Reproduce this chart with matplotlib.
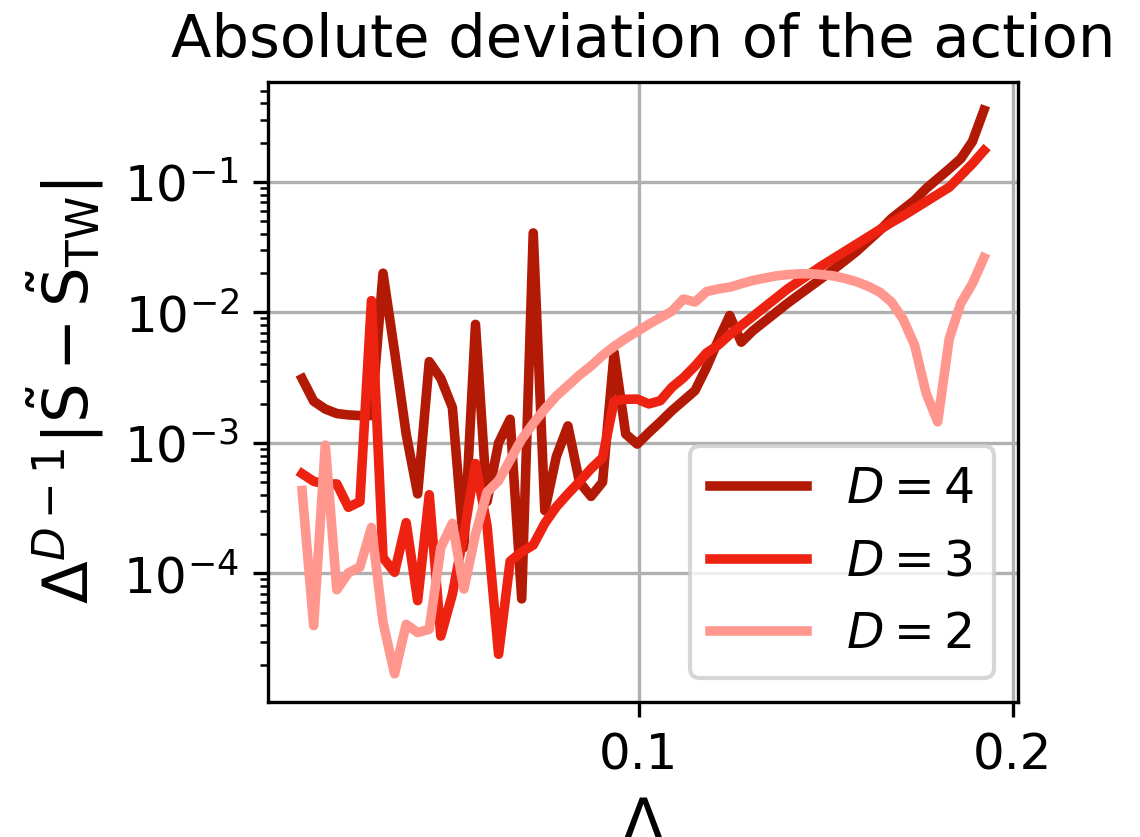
import matplotlib
matplotlib.use("Agg")
import matplotlib.pyplot as plt
from matplotlib.ticker import FormatStrFormatter, NullLocator
import numpy as np

# ---- data ------------------------------------------------------------------
delta = np.array([
    0.05356, 0.05472, 0.05591, 0.05712, 0.05836, 0.05962, 0.06091, 0.06223,
    0.06358, 0.06496, 0.06636, 0.06780, 0.06927, 0.07077, 0.07230, 0.07387,
    0.07547, 0.07710, 0.07877, 0.08048, 0.08222, 0.08400, 0.08582, 0.08768,
    0.08958, 0.09152, 0.09350, 0.09553, 0.09760, 0.09971, 0.10187, 0.10408,
    0.10633, 0.10863, 0.11099, 0.11339, 0.11585, 0.11836, 0.12092, 0.12354,
    0.12621, 0.12895, 0.13174, 0.13459, 0.13751, 0.14049, 0.14353, 0.14664,
    0.14982, 0.15306, 0.15638, 0.15976, 0.16322, 0.16676, 0.17037, 0.17406,
    0.17783, 0.18168, 0.18562, 0.18964,
])

dev_d4 = np.array([
    3.11e-3, 2.09e-3, 1.82e-3, 1.68e-3, 1.64e-3, 1.62e-3, 1.62e-3, 2.00e-2,
    5.01e-3, 1.17e-3, 4.07e-4, 4.20e-3, 3.12e-3, 1.87e-3, 1.58e-4, 8.11e-3,
    3.55e-4, 1.00e-3, 1.52e-3, 6.38e-5, 4.07e-2, 3.03e-4, 7.87e-4, 1.35e-3,
    5.01e-4, 3.89e-4, 5.01e-4, 4.93e-3, 1.17e-3, 9.80e-4, 1.20e-3, 1.45e-3,
    1.77e-3, 2.11e-3, 2.52e-3, 3.80e-3, 6.10e-3, 9.48e-3, 5.92e-3, 7.24e-3,
    8.51e-3, 1.000e-2, 1.175e-2, 1.365e-2, 1.585e-2, 1.84e-2, 2.14e-2, 2.51e-2,
    2.95e-2, 3.55e-2, 4.27e-2, 5.25e-2, 6.17e-2, 7.24e-2, 8.91e-2, 1.06e-1,
    1.26e-1, 1.51e-1, 2.04e-1, 3.55e-1,
])

dev_d3 = np.array([
    5.81e-4, 5.08e-4, 4.84e-4, 4.85e-4, 3.21e-4, 3.55e-4, 1.233e-2, 1.32e-4,
    1.02e-4, 2.45e-4, 6.18e-5, 4.01e-4, 3.31e-5, 6.92e-5, 2.00e-4, 6.95e-4,
    2.32e-4, 2.40e-5, 1.24e-4, 1.46e-4, 1.65e-4, 2.42e-4, 3.24e-4, 4.07e-4,
    5.05e-4, 6.35e-4, 7.71e-4, 2.10e-3, 2.16e-3, 2.17e-3, 1.99e-3, 2.11e-3,
    2.67e-3, 3.16e-3, 3.89e-3, 4.90e-3, 5.62e-3, 6.76e-3, 7.94e-3, 9.33e-3,
    1.096e-2, 1.288e-2, 1.514e-2, 1.738e-2, 1.995e-2, 2.29e-2, 2.60e-2, 2.95e-2,
    3.35e-2, 3.80e-2, 4.32e-2, 4.90e-2, 5.50e-2, 6.24e-2, 7.08e-2, 8.04e-2,
    9.12e-2, 1.12e-1, 1.38e-1, 1.74e-1,
])

dev_d2 = np.array([
    4.32e-4, 3.98e-5, 9.62e-4, 7.50e-5, 1.01e-4, 1.12e-4, 2.25e-4, 4.21e-5,
    1.70e-5, 4.07e-5, 3.52e-5, 3.73e-5, 1.58e-4, 2.42e-4, 7.59e-5, 2.00e-4,
    4.19e-4, 5.13e-4, 7.41e-4, 1.07e-3, 1.41e-3, 1.82e-3, 2.29e-3, 2.75e-3,
    3.31e-3, 3.89e-3, 4.68e-3, 5.50e-3, 6.31e-3, 7.16e-3, 8.13e-3, 9.12e-3,
    1.023e-2, 1.268e-2, 1.202e-2, 1.445e-2, 1.514e-2, 1.563e-2, 1.660e-2, 1.758e-2,
    1.832e-2, 1.905e-2, 1.950e-2, 1.977e-2, 1.982e-2, 1.950e-2, 1.905e-2, 1.820e-2,
    1.718e-2, 1.585e-2, 1.429e-2, 1.202e-2, 8.91e-3, 5.62e-3, 2.40e-3, 1.45e-3,
    6.31e-3, 1.175e-2, 1.660e-2, 2.63e-2,
])

series = [dev_d4, dev_d3, dev_d2]
labels = ["$D=4$", "$D=3$", "$D=2$"]
colors = ["#b21a06", "#ee2211", "#ff978f"]

# ---- figure ----------------------------------------------------------------
fig = plt.figure(figsize=(3.8, 2.79), dpi=300)
ax = fig.add_axes([0.2351, 0.1613, 0.8930 - 0.2351, 0.9020 - 0.1613])

for ys, lab, col in zip(series, labels, colors):
    ax.plot(delta, ys, color=col, lw=2.3, label=lab)

ax.set_xscale("log")
ax.set_yscale("log")
ax.set_xticks([0.1, 0.2])
ax.xaxis.set_major_formatter(FormatStrFormatter("%g"))
ax.xaxis.set_minor_locator(NullLocator())
ax.tick_params(labelsize=12)
ax.grid(True)

ax.set_title("Absolute deviation of the action", fontsize=14.2)
ax.set_xlabel(r"$\Delta$", fontsize=15)
ax.set_ylabel(r"$\Delta^{D-1}|\tilde{\mathrm{S}}-\tilde{\mathrm{S}}_{\mathrm{TW}}|$",
              fontsize=15)
ax.legend(loc="lower right", fontsize=11.7)

fig.savefig("out.png", dpi=300)
